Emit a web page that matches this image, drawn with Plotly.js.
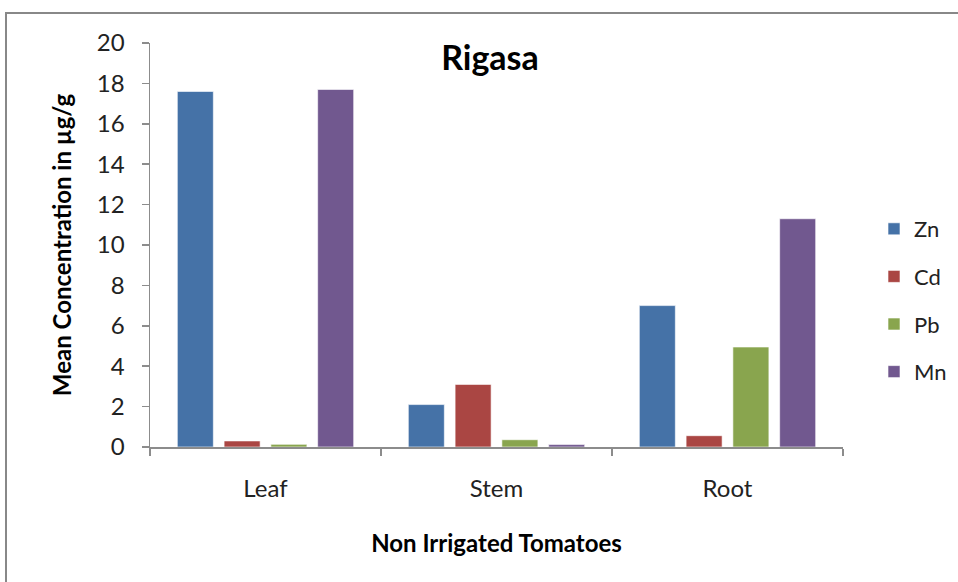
<!DOCTYPE html>
<html>
<head>
<meta charset="utf-8">
<script src="https://cdn.plot.ly/plotly-3.0.1.min.js"></script>
<style>
html,body{margin:0;padding:0;background:#fff;}
#chart{width:958px;height:582px;}
</style>
</head>
<body>
<div id="chart"></div>
<script>
const categories = ["Leaf", "Stem", "Root"];
const seriesNames = ["Zn", "Cd", "Pb", "Mn"];
const zn = [17.6, 2.1, 7.0];
const cd = [0.3, 3.1, 0.56];
const pb = [0.13, 0.36, 4.95];
const mn = [17.7, 0.12, 11.3];
const yTicks = [0, 2, 4, 6, 8, 10, 12, 14, 16, 18, 20];
const colors = ["#4572A7", "#AA4643", "#89A54E", "#71588F"];

const values = [zn, cd, pb, mn];
const font = "Lato, 'Open Sans', 'Liberation Sans', sans-serif";

const traces = seriesNames.map((name, i) => ({
  type: "bar",
  name: name,
  x: categories,
  y: values[i],
  legendgroup: name,
  marker: {color: colors[i], line: {color: "rgba(255,255,255,0.6)", width: 1}}
}));

const L = 150, R = 958 - 843, T = 43, B = 582 - 447;
const pw = 958 - L - R, ph = 582 - T - B;

const layout = {
  width: 958, height: 582,
  margin: {l: L, r: R, t: T, b: B, autoexpand: false},
  paper_bgcolor: "#fff", plot_bgcolor: "#fff",
  font: {family: font, color: "#222", size: 24},
  title: {text: "<b>Rigasa</b>", font: {size: 34, color: "#000"}, x: 490 / 958, xanchor: "center", y: 1 - 58 / 582, yanchor: "middle"},
  barmode: "group",
  bargap: 0.19,
  bargroupgap: 0.23,
  showlegend: true,
  legend: {
    xref: "container", yref: "container",
    x: 874 / 958, xanchor: "left",
    y: 1 - 208 / 582, yanchor: "top",
    font: {size: 22, color: "#222"},
    traceorder: "grouped",
    tracegroupgap: 16,
    itemwidth: 30,
    bgcolor: "rgba(0,0,0,0)"
  },
  xaxis: {
    type: "category",
    showline: true, linecolor: "#8c8c8c", linewidth: 1.5,
    ticks: "outside", tickson: "boundaries", ticklen: 7, tickcolor: "#8c8c8c", tickwidth: 1.5,
    ticklabelstandoff: 20,
    showgrid: false,
    tickfont: {size: 24, color: "#222"},
    title: {text: "<b>Non Irrigated Tomatoes</b>", font: {size: 24, color: "#000"}, standoff: 34}
  },
  yaxis: {
    range: [0, 20],
    tickvals: yTicks,
    showline: true, linecolor: "#8c8c8c", linewidth: 1.5,
    ticks: "outside", ticklen: 7, tickcolor: "#8c8c8c", tickwidth: 1.5,
    ticklabelstandoff: 12,
    showgrid: false, zeroline: false,
    tickfont: {size: 24, color: "#222"},
    title: {text: "<b>Mean Concentration in µg/g</b>", font: {size: 24, color: "#000"}, standoff: 18}
  },
  shapes: [{
    type: "rect", xref: "paper", yref: "paper",
    x0: (6 - L) / pw, x1: (1000 - L) / pw,
    y0: (447 - 640) / ph, y1: (447 - 13) / ph,
    line: {color: "#888", width: 2}, fillcolor: "rgba(0,0,0,0)", layer: "below"
  }]
};

Plotly.newPlot("chart", traces, layout, {displayModeBar: false, staticPlot: true});
</script>
</body>
</html>
